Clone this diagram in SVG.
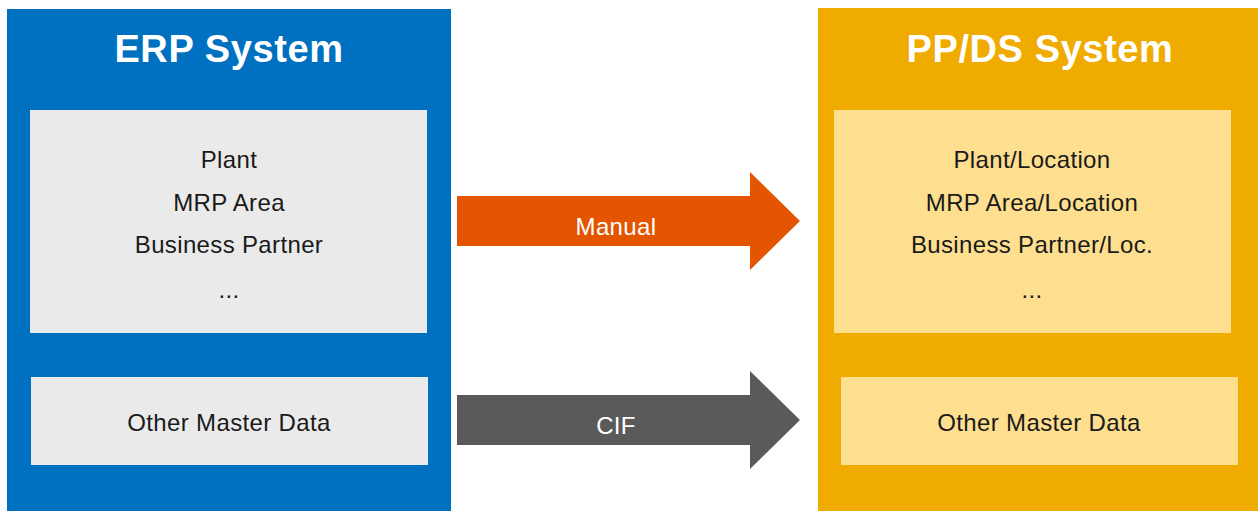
<svg xmlns="http://www.w3.org/2000/svg" width="1258" height="511" viewBox="0 0 1258 511">
<style>
.title{font-family:"Liberation Sans",Arial,sans-serif;font-weight:bold;font-size:38px;letter-spacing:0.6px;fill:#fff;text-anchor:middle}
.body{font-family:"Liberation Sans",Arial,sans-serif;font-size:24px;letter-spacing:0.35px;fill:#1a1a1a;text-anchor:middle}
.lbl{font-family:"Liberation Sans",Arial,sans-serif;font-size:24px;letter-spacing:0.35px;fill:#fff;text-anchor:middle}
.gray{fill:#EAEAEA}
.yel{fill:#FEDE8F}
</style>
<rect width="1258" height="511" fill="#fff"/>
<g id="erp">
<rect x="7" y="9" width="444" height="502" fill="#0070C0"/>
<text class="title" x="229" y="62">ERP System</text>
</g>
<g id="erp-org">
<rect class="gray" x="30" y="110" width="397" height="223"/>
<text class="body" x="229" y="168">Plant</text>
<text class="body" x="229" y="211">MRP Area</text>
<text class="body" x="229" y="253">Business Partner</text>
<text class="body" x="229" y="298">...</text>
</g>
<g id="erp-other">
<rect class="gray" x="31" y="377" width="397" height="88"/>
<text class="body" x="229" y="431">Other Master Data</text>
</g>
<g id="ppds">
<rect x="818" y="8" width="440" height="503" fill="#F0AB00"/>
<text class="title" x="1040" y="62">PP/DS System</text>
</g>
<g id="ppds-org">
<rect class="yel" x="834" y="110" width="397" height="223"/>
<text class="body" x="1032" y="168">Plant/Location</text>
<text class="body" x="1032" y="211">MRP Area/Location</text>
<text class="body" x="1032" y="253">Business Partner/Loc.</text>
<text class="body" x="1032" y="298">...</text>
</g>
<g id="ppds-other">
<rect class="yel" x="841" y="377" width="397" height="88"/>
<text class="body" x="1039" y="431">Other Master Data</text>
</g>
<g id="connectors">
<polygon points="457,196 750,196 750,172 800,221 750,270 750,246 457,246" fill="#E35500"/>
<text class="lbl" x="616" y="235">Manual</text>
<polygon points="457,395 750,395 750,371 800,420 750,469 750,445 457,445" fill="#5A5A5A"/>
<text class="lbl" x="616" y="434">CIF</text>
</g>
</svg>
